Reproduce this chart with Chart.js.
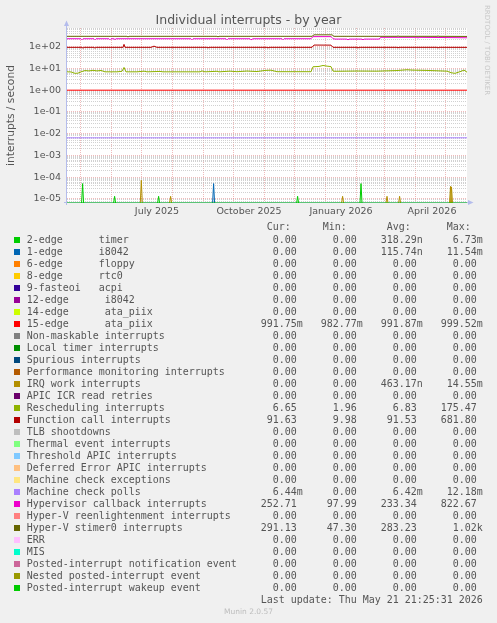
<!DOCTYPE html>
<html><head><meta charset="utf-8">
<script src="https://cdn.jsdelivr.net/npm/chart.js@4/dist/chart.umd.min.js"></script>
<style>
html,body{margin:0;padding:0;background:#f0f0f0;}
#wrap{position:relative;width:497px;height:623px;overflow:hidden;background:#f0f0f0;}
#c{position:absolute;left:0;top:0;}
.mono{position:absolute;white-space:pre;font-family:"DejaVu Sans Mono",monospace;font-size:9.97px;line-height:12px;color:#555;margin:0;}
.sw{position:absolute;width:6px;height:6px;left:14px;}
#title{position:absolute;left:0;width:497px;top:12px;text-align:center;font-family:"DejaVu Sans",sans-serif;font-size:12.5px;line-height:15px;color:#555;}
#wm{position:absolute;left:483px;top:5px;writing-mode:vertical-rl;font-family:"DejaVu Sans",sans-serif;font-size:7px;line-height:8px;color:#c8c8c8;white-space:nowrap;}
#ver{position:absolute;left:0;width:497px;top:607px;text-align:center;font-family:"DejaVu Sans",sans-serif;font-size:7.5px;line-height:10px;color:#bdbdbd;}
</style></head><body>
<div id="wrap">
<canvas id="c" width="497" height="623"></canvas>
<div id="title">Individual interrupts - by year</div>
<div id="wm">RRDTOOL / TOBI OETIKER</div>
<div id="ver">Munin 2.0.57</div>
</div>
<script>
// ---- axis / tick data ----
const Y_MIN = 6.55e-6, Y_MAX = 710;
const X_DAYS = 400;                        // day 0 = 18 Apr 2025, day 400 = 21 May 2026
const monthStartDays = [13,44,74,105,136,166,197,227,258,289,317,348,378];
const xLabelDays = [90,182,274,365];
const xLabels = ['July 2025','October 2025','January 2026','April 2026'];
const yLabelDecades = [-5,-4,-3,-2,-1,0,1,2];
const yTickLabels = ['1e-05','1e-04','1e-03','1e-02','1e-01','1e+00','1e+01','1e+02'];

// ---- legend data ----
const legendLabels = [
 '2-edge      timer','1-edge      i8042','6-edge      floppy','8-edge      rtc0','9-fasteoi   acpi',
 '12-edge      i8042','14-edge      ata_piix','15-edge      ata_piix','Non-maskable interrupts','Local timer interrupts',
 'Spurious interrupts','Performance monitoring interrupts','IRQ work interrupts','APIC ICR read retries','Rescheduling interrupts',
 'Function call interrupts','TLB shootdowns','Thermal event interrupts','Threshold APIC interrupts','Deferred Error APIC interrupts',
 'Machine check exceptions','Machine check polls','Hypervisor callback interrupts','Hyper-V reenlightenment interrupts','Hyper-V stimer0 interrupts',
 'ERR','MIS','Posted-interrupt notification event','Nested posted-interrupt event','Posted-interrupt wakeup event'];
const legendColors = ['#00cc00','#0066b3','#ff8000','#ffcc00','#330099','#990099','#ccff00','#ff0000','#808080','#008f00',
 '#00487d','#b35a00','#b38f00','#6b006b','#8fb300','#b30000','#bebebe','#80ff80','#80c9ff','#ffc080',
 '#ffe680','#aa80ff','#ee00cc','#ff8080','#666600','#ffbfff','#00ffcc','#cc6699','#999900','#00cc00'];
const curVals = ['0.00','0.00','0.00','0.00','0.00','0.00','0.00','991.75m','0.00','0.00','0.00','0.00','0.00','0.00','6.65',
 '91.63','0.00','0.00','0.00','0.00','0.00','6.44m','252.71','0.00','291.13','0.00','0.00','0.00','0.00','0.00'];
const minVals = ['0.00','0.00','0.00','0.00','0.00','0.00','0.00','982.77m','0.00','0.00','0.00','0.00','0.00','0.00','1.96',
 '9.98','0.00','0.00','0.00','0.00','0.00','0.00','97.99','0.00','47.30','0.00','0.00','0.00','0.00','0.00'];
const avgVals = ['318.29n','115.74n','0.00','0.00','0.00','0.00','0.00','991.87m','0.00','0.00','0.00','0.00','463.17n','0.00','6.83',
 '91.53','0.00','0.00','0.00','0.00','0.00','6.42m','233.34','0.00','283.23','0.00','0.00','0.00','0.00','0.00'];
const maxVals = ['6.73m','11.54m','0.00','0.00','0.00','0.00','0.00','999.52m','0.00','0.00','0.00','0.00','14.55m','0.00','175.47',
 '681.80','0.00','0.00','0.00','0.00','0.00','12.18m','822.67','0.00','1.02k','0.00','0.00','0.00','0.00','0.00'];

// ---- series data (x = day, y = interrupts/s) ----
const stimerX = [0,60,61,62,150,151,152,245,247,265,267,330,331,332,370,371,372,400];
const stimerY = [295,295,275,295,295,278,295,295,345,345,295,295,305,295,295,305,295,291];
const hvX = [0,14,15,16,27,28,29,42,43,44,47,48,49,124,125,126,159,160,161,183,184,186,215,216,217,244,246,264,266,268,280,281,282,295,296,297,312,314,350,351,352,400];
const hvY = [228,228,205,228,228,205,228,228,205,228,228,208,228,228,205,228,228,205,228,228,203,228,228,205,228,228,285,285,230,220,220,200,220,220,202,220,220,265,265,245,265,253];
const fcX = [0,15,16,17,27,28,29,56,57,58,84,87,90,140,141,142,200,201,202,245,247,264,266,290,291,292,330,331,332,370,371,372,400];
const fcY = [92,92,84,92,92,84,92,92,126,92,92,104,92,92,86,92,92,86,92,92,117,116,92,92,86,92,92,87,92,92,86,92,91.6];
const rsX = [0,4,8,11,14,18,22,26,30,34,38,50,55,57,59,70,77,80,93,96,120,133,135,138,150,152,163,170,180,190,198,204,210,230,244,246,252,256,260,264,266,268,290,310,330,340,345,360,380,384,388,393,397,400];
const rsY = [6.9,6.8,5.9,6.0,6.9,7.9,7.6,8.1,7.6,8.0,6.9,6.9,7.3,11.0,6.9,6.9,7.4,6.9,7.2,6.9,6.9,6.9,7.6,6.9,7.3,6.9,7.4,7.0,7.5,7.1,8.0,8.2,7.0,7.0,7.0,11.8,12.2,13.5,12.6,12.0,7.5,7.3,7.5,7.4,7.9,8.6,8.3,8.0,7.4,6.3,5.9,7.0,8.3,6.65];
const edge15X = [0,100,200,300,400];
const edge15Y = [0.992,0.992,0.992,0.992,0.992];
const mcpX = [0,200,400];
const mcpY = [6.42e-3,6.42e-3,6.44e-3];
const timerSpikeDays = [15.6,47.6,91.6,230.6,294];
const timerSpikeVals = [5.1e-5,1.33e-5,1.33e-5,1.33e-5,5.1e-5];
const i8042SpikeDays = [146.6];
const i8042SpikeVals = [5.1e-5];
const irqSpikeDays = [74.3,103.6,275.6,320,332.6,383.5,384.5];
const irqSpikeVals = [7.2e-5,1.33e-5,1.33e-5,1.33e-5,1.33e-5,3.8e-5,3.6e-5];
const wakeupX = [0,400];
const wakeupY = [0,0];

// ---- build ----
const FLOOR = Y_MIN; // zero values sit on the floor of the log axis, as rrdtool draws them
function pts(xs, ys){ return xs.map((x,i)=>({x:x, y: ys[i] > 0 ? ys[i] : FLOOR})); }
function spikes(days, vals){
  const out=[];
  days.forEach((d,i)=>{ out.push({x:d-1,y:FLOOR},{x:d,y:vals[i]},{x:d+1,y:FLOOR},{x:d+1,y:null}); });
  return out;
}
function ds(idx, data){
  return {label: legendLabels[idx], data: data, borderColor: legendColors[idx], backgroundColor: legendColors[idx],
    borderWidth:1, pointRadius:0, fill:false, tension:0, spanGaps:false, order: 100-idx};
}
const datasets = [
  ds(0, spikes(timerSpikeDays, timerSpikeVals)),
  ds(1, spikes(i8042SpikeDays, i8042SpikeVals)),
  ds(7, pts(edge15X, edge15Y)),
  ds(12, spikes(irqSpikeDays, irqSpikeVals)),
  ds(14, pts(rsX, rsY)),
  ds(15, pts(fcX, fcY)),
  ds(21, pts(mcpX, mcpY)),
  ds(22, pts(hvX, hvY)),
  ds(24, pts(stimerX, stimerY)),
  ds(29, pts(wakeupX, wakeupY))
];

const MAJOR = 'rgba(225,120,120,0.5)';
const MINOR = 'rgba(185,185,185,0.65)';
const AXIS = '#b4bcec';
const TXT = '#555';

const frame = {
  id:'frame',
  beforeDraw(chart){
    const {ctx, chartArea:a} = chart;
    ctx.save(); ctx.fillStyle='#ffffff';
    ctx.fillRect(a.left, a.top, a.right-a.left, a.bottom-a.top); ctx.restore();
  },
  beforeDatasetsDraw(chart){
    const {ctx, chartArea:a} = chart;
    const lx = a.left - 0.5, by = a.bottom - 0.5;
    ctx.save();
    ctx.strokeStyle = AXIS; ctx.fillStyle = AXIS; ctx.lineWidth = 1;
    ctx.beginPath(); ctx.moveTo(lx, a.bottom+2); ctx.lineTo(lx, a.top-2); ctx.stroke();
    ctx.beginPath(); ctx.moveTo(lx-2.5, a.top-2); ctx.lineTo(lx+2.5, a.top-2); ctx.lineTo(lx, a.top-7.5); ctx.closePath(); ctx.fill();
    ctx.beginPath(); ctx.moveTo(a.left-3, by); ctx.lineTo(a.right+1, by); ctx.stroke();
    ctx.beginPath(); ctx.moveTo(a.right+1, by-2.5); ctx.lineTo(a.right+1, by+2.5); ctx.lineTo(a.right+6.5, by); ctx.closePath(); ctx.fill();
    ctx.restore();
  }
};

new Chart(document.getElementById('c'), {
  type:'line',
  data:{datasets},
  options:{
    responsive:false, animation:false, devicePixelRatio:1,
    layout:{padding:{left:0, top:28, right:30, bottom:400}},
    plugins:{legend:{display:false}, tooltip:{enabled:false}, title:{display:false}},
    scales:{
      x:{type:'linear', min:0, max:X_DAYS,
        afterBuildTicks(s){
          const t = monthStartDays.map(v=>({value:v, isGrid:true})).concat(xLabelDays.map((v,i)=>({value:v, txt:xLabels[i]})));
          t.sort((a,b)=>a.value-b.value);
          s.ticks = t;
        },
        afterFit(s){ s.height = 20; },
        grid:{drawTicks:false, color:c=> (c.tick && c.tick.isGrid) ? MAJOR : 'rgba(0,0,0,0)', lineWidth:c=> (c.tick && c.tick.isGrid) ? 1 : 0},
        border:{display:false, dash:[1,1]},
        ticks:{autoSkip:false, maxRotation:0, minRotation:0, padding:3, color:TXT, font:{family:'DejaVu Sans', size:9.5},
          callback:(v,i,ticks)=> ticks[i].txt || ''}
      },
      y:{type:'logarithmic', min:Y_MIN, max:Y_MAX,
        afterBuildTicks(s){
          const t=[];
          for(let e=-6;e<=2;e++) for(let m=1;m<=9;m++){ const v=Number(m+'e'+e); if(v>=Y_MIN && v<=Y_MAX) t.push({value:v, major:m===1, dec:e}); }
          s.ticks=t;
        },
        afterFit(s){ s.width = 67; },
        grid:{drawTicks:false, color:c=> (c.tick && c.tick.major) ? MAJOR : MINOR},
        border:{display:false, dash:[1,1]},
        ticks:{autoSkip:false, padding:6, color:TXT, font:{family:'DejaVu Sans', size:9.5},
          callback:(v,i,ticks)=> ticks[i].major ? (yTickLabels[yLabelDecades.indexOf(ticks[i].dec)] || '') : ''},
        title:{display:true, text:'interrupts / second', color:TXT, font:{family:'DejaVu Sans', size:10.7}, padding:{top:4.5, bottom:0}}
      }
    }
  },
  plugins:[frame]
});

// ---- legend (text) ----
const wrap = document.getElementById('wrap');
function field(s){ const last = s.slice(-1); const suf = /[a-zA-Z]/.test(last) ? last : ' '; const num = suf===' ' ? s : s.slice(0,-1); return num.padStart(6) + suf; }
function addText(txt, left, top){ const d=document.createElement('div'); d.className='mono'; d.textContent=txt; d.style.left=left+'px'; d.style.top=top+'px'; wrap.appendChild(d); return d; }
addText('Cur:', 266.7, 221);
addText('Min:', 322.7, 221);
addText('Avg:', 386.7, 221);
addText('Max:', 446.7, 221);
const rows = legendLabels.map((l,i)=> l.padEnd(39) + field(curVals[i]) + '   ' + field(minVals[i]) + '   ' + field(avgVals[i]) + '   ' + field(maxVals[i]));
addText(rows.join('\n'), 26.7, 234);
legendLabels.forEach((l,i)=>{ const s=document.createElement('div'); s.className='sw'; s.style.top=(237+12*i)+'px'; s.style.background=legendColors[i]; wrap.appendChild(s); });
addText('Last update: Thu May 21 21:25:31 2026', 260.7, 594);
</script>
</body></html>
